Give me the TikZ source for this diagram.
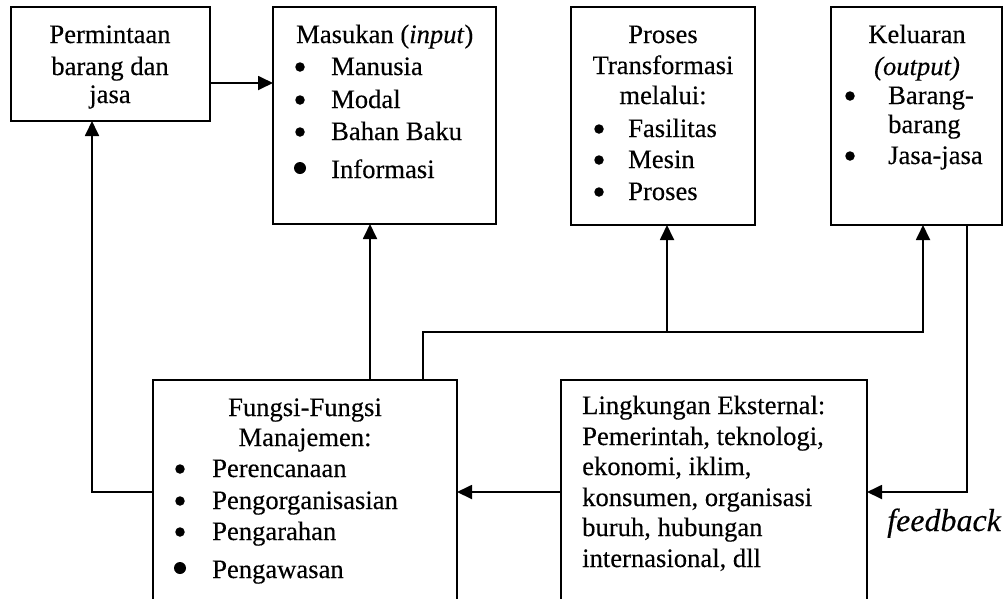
\documentclass[tikz,border=0pt]{standalone}
\usepackage{fontspec}
\setmainfont[FakeBold=0.25]{Liberation Serif}
\usetikzlibrary{arrows.meta,calc}
\begin{document}
\begin{tikzpicture}[x=1pt,y=-1pt,
  box/.style={draw, line width=1.8pt, rectangle, inner sep=0pt, outer sep=0pt, anchor=north west},
  txt/.style={inner sep=0pt, font=\fontsize{26.6}{30}\selectfont},
  ctr/.style={txt, anchor=base},
  lft/.style={txt, anchor=base west},
  dot/.style={circle, fill, inner sep=0pt, minimum size=9.5pt},
  bigdot/.style={dot, minimum size=12pt},
  arr/.style={line width=1.8pt, -{Triangle[length=15pt,width=14pt]}},
  ln/.style={line width=1.8pt}]
\clip (0,0) rectangle (1006,598);
\fill[white] (0,0) rectangle (1006,598);

% boxes
\node[box, minimum width=199pt, minimum height=114pt] (box1) at (11,7) {};
\node[box, minimum width=223pt, minimum height=217pt] (box2) at (273,7) {};
\node[box, minimum width=184pt, minimum height=218pt] (box3) at (571,7) {};
\node[box, minimum width=171pt, minimum height=218pt] (box4) at (831,7) {};
\node[box, minimum width=304pt, minimum height=224pt] (fungsi) at (153,380) {};
\node[box, minimum width=306pt, minimum height=224pt] (ling) at (561,380) {};

% box1 text
\node[ctr] (t1a) at (110,43) {Permintaan};
\node[ctr] (t1b) at (110,75) {barang dan};
\node[ctr] (t1c) at (110,103) {jasa};

% box2 text
\node[lft] (t2) at (296,43) {Masukan (\textit{input})};
\node[dot] (b2a) at (300,67) {};
\node[dot] (b2b) at (300,100) {};
\node[dot] (b2c) at (300,132) {};
\node[bigdot] (b2d) at (300,168) {};
\node[lft] (i2a) at (331,75) {Manusia};
\node[lft] (i2b) at (331,108) {Modal};
\node[lft] (i2c) at (331,140) {Bahan Baku};
\node[lft] (i2d) at (331,178) {Informasi};

% box3 text
\node[ctr] (t3a) at (663,43) {Proses};
\node[ctr] (t3b) at (663,74) {Transformasi};
\node[ctr] (t3c) at (663,104) {melalui:};
\node[dot] (b3a) at (599,129) {};
\node[dot] (b3b) at (599,160) {};
\node[dot] (b3c) at (599,192) {};
\node[lft] (i3a) at (628,137) {Fasilitas};
\node[lft] (i3b) at (628,168) {Mesin};
\node[lft] (i3c) at (628,200) {Proses};

% box4 text
\node[ctr] (t4a) at (917,43) {Keluaran};
\node[ctr] (t4b) at (917,75) {\textit{(output)}};
\node[dot] (b4a) at (850,96) {};
\node[dot] (b4b) at (850,156) {};
\node[lft] (i4a) at (888,104) {Barang-};
\node[lft] (i4b) at (888,133) {barang};
\node[lft] (i4c) at (888,164) {Jasa-jasa};

% fungsi text
\node[ctr] (t5a) at (305,416) {Fungsi-Fungsi};
\node[ctr] (t5b) at (305,446) {Manajemen:};
\node[dot] (b5a) at (180,469) {};
\node[dot] (b5b) at (180,501) {};
\node[dot] (b5c) at (180,532) {};
\node[bigdot] (b5d) at (180,568) {};
\node[lft] (i5a) at (212,477) {Perencanaan};
\node[lft] (i5b) at (212,509) {Pengorganisasian};
\node[lft] (i5c) at (212,540) {Pengarahan};
\node[lft] (i5d) at (212,578) {Pengawasan};

% lingkungan text
\node[lft] (t6a) at (582,414) {Lingkungan Eksternal:};
\node[lft] (t6b) at (582,445) {Pemerintah, teknologi,};
\node[lft] (t6c) at (582,475) {ekonomi, iklim,};
\node[lft] (t6d) at (582,506) {konsumen, organisasi};
\node[lft] (t6e) at (582,536) {buruh, hubungan};
\node[lft] (t6f) at (582,567) {internasional, dll};

% feedback label
\node[lft, font=\fontsize{32}{32}\selectfont\itshape] (fblabel) at (887,531) {feedback};

% connectors
\coordinate (cL) at (92,492);
\coordinate (xIn) at (370,0);
\coordinate (cB) at (423,332);
\coordinate (cP) at (667,332);
\coordinate (cK) at (923,332);
\coordinate (cF) at (967,0);

\draw[arr] ([yshift=-19pt]box1.east) -- ([yshift=-19pt]box1.east -| box2.west);
\draw[arr] (fungsi.west) -- (cL) -- (cL |- box1.south);
\draw[arr] (fungsi.north -| xIn) -- (box2.south -| xIn);
\draw[arr] (fungsi.north -| cB) |- (cK) -- (box4.south -| cK);
\draw[arr] (cP) -- (box3.south -| cP);
\draw[arr] (box4.south -| cF) |- (ling.east);
\draw[arr] (ling.west) -- (fungsi.east);
\end{tikzpicture}
\end{document}
